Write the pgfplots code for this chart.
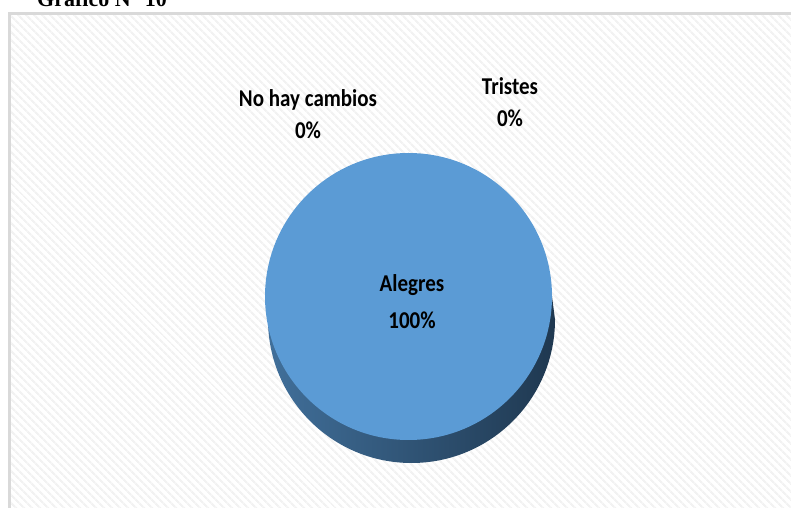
\documentclass[border=0pt]{standalone}
\usepackage{pgfplots}
\pgfplotsset{compat=1.18}
\usepackage{pgfplotstable}
\usepackage{graphicx}
\usepackage{fontspec}
\setmainfont{Liberation Serif}
\newfontfamily\calibri{Carlito}
\usetikzlibrary{patterns.meta}

\definecolor{pieTop}{HTML}{5B9BD5}
\definecolor{sideL}{HTML}{41709B}
\definecolor{sideM}{HTML}{2A4A69}
\definecolor{sideR}{HTML}{1F3850}
\definecolor{frameGray}{HTML}{D9D9D9}
\definecolor{stripe}{HTML}{F2F2F2}

% share of each answer (percent)
\pgfplotstableread{
label value
Alegres 100
NoHayCambios 0
Tristes 0
}\piedata
\pgfplotstablegetelem{0}{value}\of\piedata \let\valA\pgfplotsretval
\pgfplotstablegetelem{1}{value}\of\piedata \let\valB\pgfplotsretval
\pgfplotstablegetelem{2}{value}\of\piedata \let\valC\pgfplotsretval

% data label text: Calibri bold, a little taller than wide
\newcommand{\lbl}[1]{\scalebox{1}[1.15]{#1}}

\begin{document}
\begin{tikzpicture}
\useasboundingbox (0,0) rectangle (791bp,508bp);
\clip (0,0) rectangle (791bp,508bp);
\begin{axis}[
    width=791bp, height=508bp, scale only axis,
    xmin=0, xmax=791, ymin=0, ymax=508,
    hide axis, clip=false,
]
% chart area: faint diagonal stripes with a grey frame
\fill[white] (axis cs:9,-10) rectangle (axis cs:810,494);
\fill[pattern={Lines[angle=-45,distance=6bp,line width=2.5bp]}, pattern color=stripe]
    (axis cs:9,-10) rectangle (axis cs:810,494);
\draw[frameGray, line width=3bp] (axis cs:9,-10) rectangle (axis cs:810,494);

% title, cut off at the top
\node[anchor=base west, font=\bfseries\fontsize{22bp}{24bp}\selectfont, inner sep=0pt]
    at (axis cs:37,501) {Gráfico N° 10};

% pie: Alegres = 100% -> full disc, with 3D side
\shade[left color=sideL, middle color=sideM, right color=sideR]
    (axis cs:265,211.5) -- (axis cs:268,188.5)
    arc[start angle=180, end angle=360, x radius=143.5bp, y radius=143.5bp]
    -- (axis cs:552,211.5) -- cycle;
\fill[pieTop] (axis cs:408.5,211.5) ellipse [x radius=143.5bp, y radius=143.5bp];

% data labels
\begin{scope}[every node/.style={font=\calibri\bfseries\fontsize{21bp}{24bp}\selectfont, inner sep=0pt}]
\node at (axis cs:412,223) {\lbl{Alegres}};
\node at (axis cs:412,188) {\lbl{\valA\%}};
\node at (axis cs:308,408) {\lbl{No hay cambios}};
\node at (axis cs:308,378) {\lbl{\valB\%}};
\node at (axis cs:510,422) {\lbl{Tristes}};
\node at (axis cs:510,390) {\lbl{\valC\%}};
\end{scope}
\end{axis}
\end{tikzpicture}
\end{document}
